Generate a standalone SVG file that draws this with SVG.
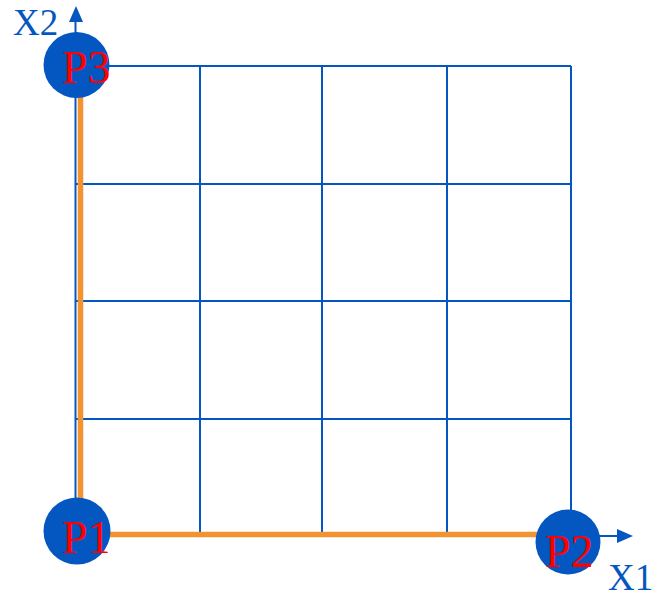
<svg xmlns="http://www.w3.org/2000/svg" width="660" height="598" viewBox="0 0 660 598">
<style>
.grid{stroke:#0457C0;stroke-width:2;fill:none}
.ax{stroke:#0457C0;stroke-width:2;fill:none}
.path{stroke:#F39230;stroke-width:5.5;fill:none}
.node{fill:#0457C0}
.lbl{font-family:"Liberation Serif","Times New Roman",serif;font-size:46px;fill:#FF0000}
.axl{font-family:"Liberation Serif","Times New Roman",serif;font-size:37px;fill:#0457C0}
.head{fill:#0457C0}
</style>
<rect width="660" height="598" fill="#ffffff"/>
<g id="connectors">
<g id="grid">
<line class="grid" x1="76" y1="66" x2="571" y2="66"/>
<line class="grid" x1="76" y1="184" x2="571" y2="184"/>
<line class="grid" x1="76" y1="301" x2="571" y2="301"/>
<line class="grid" x1="76" y1="419" x2="571" y2="419"/>
<line class="grid" x1="200" y1="66" x2="200" y2="535"/>
<line class="grid" x1="322" y1="66" x2="322" y2="535"/>
<line class="grid" x1="447" y1="66" x2="447" y2="535"/>
<line class="grid" x1="571" y1="66" x2="571" y2="535"/>
</g>
<line class="ax" x1="75.5" y1="20" x2="75.5" y2="535"/>
<polygon class="head" points="76,6 69,22 83,22"/>
<line class="ax" x1="76" y1="536" x2="619" y2="536"/>
<polygon class="head" points="633,536 617,529 617,543"/>
<line class="path" x1="80.5" y1="70" x2="80.5" y2="534.5"/>
<line class="path" x1="80.5" y1="534.5" x2="560" y2="534.5"/>
</g>
<g id="P3">
<circle class="node" cx="76.5" cy="65" r="33"/>
<text class="lbl" x="62" y="83">P3</text>
</g>
<g id="P1">
<circle class="node" cx="77" cy="531" r="33.5"/>
<text class="lbl" x="62" y="553">P1</text>
</g>
<g id="P2">
<circle class="node" cx="568" cy="542" r="32.5"/>
<text class="lbl" x="545" y="567">P2</text>
</g>
<text class="axl" x="13" y="35">X2</text>
<text class="axl" x="608" y="590" font-size="36">X1</text>
</svg>
